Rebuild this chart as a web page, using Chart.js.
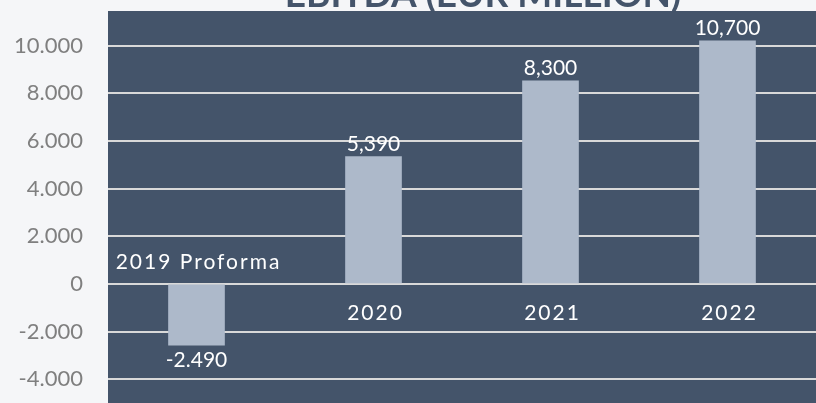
<!DOCTYPE html>
<html>
<head>
<meta charset="utf-8">
<script src="https://cdn.jsdelivr.net/npm/chart.js@4.4.1/dist/chart.umd.min.js"></script>
<style>
    html, body { margin: 0; padding: 0; background: #f5f6f8; }
    #wrap { width: 816px; height: 403px; position: relative; }
</style>
</head>
<body>
<div id="wrap"><canvas id="myChart"></canvas></div>
<script>
const categories = ["2019 Proforma", "2020", "2021", "2022"];
const ebitda = [-2570, 5340, 8520, 10200];
const valueLabels = ["-2.490", "5,390", "8,300", "10,700"];
const yTicks = [-4000, -2000, 0, 2000, 4000, 6000, 8000, 10000];
const chartTitle = "EBITDA (EUR MILLION)";

(() => {
    'use strict';
    const canvas = document.getElementById("myChart");
    if (!canvas) {
        return;
    }

    // dark panel behind the plot + the title that is cut off at the top
    const plotBackground = {
        id: "plotBackground",
        beforeDraw(chart) {
            const { ctx, chartArea: a } = chart;
            ctx.save();
            ctx.fillStyle = "#44546a";
            ctx.fillRect(a.left, a.top, a.right - a.left, a.bottom - a.top);
            ctx.font = "bold 37px Lato";
            ctx.textAlign = "center";
            ctx.textBaseline = "alphabetic";
            ctx.fillText(chartTitle, 483, 7);
            ctx.restore();
        }
    };

    const barLabels = {
        id: "barLabels",
        afterDatasetsDraw(chart) {
            const { ctx } = chart;
            const meta = chart.getDatasetMeta(0);
            const zero = chart.scales.y.getPixelForValue(0);
            ctx.save();
            ctx.fillStyle = "#ffffff";
            ctx.textAlign = "center";
            ctx.textBaseline = "alphabetic";
            ctx.font = "21px Lato";
            meta.data.forEach((bar, i) => {
                const neg = ebitda[i] < 0;
                ctx.letterSpacing = "0px";
                ctx.fillText(valueLabels[i], bar.x, neg ? bar.y + 22 : bar.y - 6);
                ctx.letterSpacing = "2px";
                ctx.fillText(categories[i], bar.x + 2, neg ? zero - 15 : zero + 36);
            });
            ctx.restore();
        }
    };

    new Chart(canvas.getContext("2d"), {
        type: "bar",
        data: {
            labels: categories,
            datasets: [
                {
                    data: ebitda,
                    backgroundColor: "#adb9ca",
                    borderWidth: 0,
                    barThickness: 56
                }
            ]
        },
        plugins: [plotBackground, barLabels],
        options: {
            responsive: true,
            maintainAspectRatio: false,
            animation: false,
            layout: { padding: { top: 11, left: 0, right: 0, bottom: 0 } },
            plugins: {
                legend: { display: false },
                tooltip: { enabled: false }
            },
            scales: {
                x: { display: false, offset: true },
                y: {
                    min: -5000,
                    max: 11450,
                    afterBuildTicks: (axis) => {
                        axis.ticks = yTicks.map(v => ({ value: v }));
                    },
                    afterFit: (axis) => {
                        axis.width = 108;
                        axis.paddingTop = 0;
                        axis.paddingBottom = 0;
                    },
                    border: { display: false },
                    grid: {
                        color: "#d9d9d9",
                        lineWidth: 2,
                        drawTicks: false
                    },
                    ticks: {
                        color: "#7f7f7f",
                        padding: 25,
                        font: { family: "Lato", size: 22 },
                        callback: v => String(v).replace(/\B(?=(\d{3})+(?!\d))/g, ".")
                    }
                }
            }
        }
    });
})();
</script>
</body>
</html>
